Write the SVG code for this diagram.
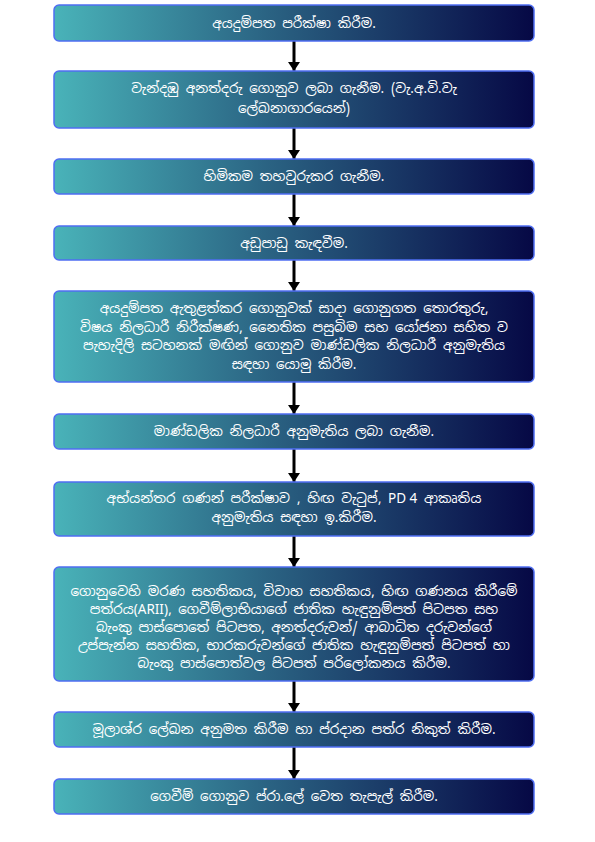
<svg xmlns="http://www.w3.org/2000/svg" width="595" height="842" viewBox="0 0 595 842">
<defs>
<linearGradient id="g" x1="0" y1="0" x2="1" y2="0">
<stop offset="0" stop-color="#49b3b9"/>
<stop offset="0.45" stop-color="#2a6282"/>
<stop offset="1" stop-color="#060845"/>
</linearGradient>
<marker id="ah" viewBox="0 0 9 12" refX="9" refY="6" markerWidth="9" markerHeight="12" markerUnits="userSpaceOnUse" orient="auto">
<path d="M0,0 L9,6 L0,12 z" fill="#000"/>
</marker>
</defs>
<style>
.b{fill:url(#g);stroke:#4f6ef2;stroke-width:1.5}
.t{fill:#fff;font-family:"Noto Sans Sinhala","Noto Sans","DejaVu Sans",sans-serif;font-size:13.5px;text-anchor:middle}
.l{font-family:"Noto Sans",sans-serif}
.c{stroke:#000;stroke-width:3;fill:none;marker-end:url(#ah)}
</style>
<rect width="595" height="842" fill="#fff"/>
<g id="connectors">
<line class="c" x1="294" y1="41" x2="294" y2="71"/>
<line class="c" x1="294" y1="128" x2="294" y2="159"/>
<line class="c" x1="294" y1="194" x2="294" y2="226"/>
<line class="c" x1="294" y1="260" x2="294" y2="291"/>
<line class="c" x1="294" y1="382" x2="294" y2="414"/>
<line class="c" x1="294" y1="449" x2="294" y2="482"/>
<line class="c" x1="294" y1="536" x2="294" y2="567"/>
<line class="c" x1="294" y1="681" x2="294" y2="712"/>
<line class="c" x1="294" y1="747" x2="294" y2="779"/>
</g>
<g id="n1"><rect class="b" x="54" y="5" width="480" height="36" rx="5"/>
<text class="t" x="294" y="28">අයදුම්පත පරීක්ෂා කිරීම.</text></g>
<g id="n2"><rect class="b" x="54" y="71" width="480" height="57" rx="5"/>
<text class="t" x="294" y="93">වැන්දඹු අනත්දරු ගොනුව ලබා ගැනීම. (වැ.අ.වි.වැ</text>
<text class="t" x="294" y="113">ලේඛනාගාරයෙන්)</text></g>
<g id="n3"><rect class="b" x="54" y="159" width="480" height="35" rx="5"/>
<text class="t" x="294" y="181">හිමිකම තහවුරුකර ගැනීම.</text></g>
<g id="n4"><rect class="b" x="54" y="226" width="480" height="34" rx="5"/>
<text class="t" x="294" y="248">අඩුපාඩු කැඳවීම.</text></g>
<g id="n5"><rect class="b" x="54" y="291" width="480" height="91" rx="5"/>
<text class="t" x="294" y="313">අයදුම්පත ඇතුළත්කර ගොනුවක් සාදා ගොනුගත තොරතුරු,</text>
<text class="t" x="294" y="332">විෂය නිලධාරී නිරීක්ෂණ, නෛතික පසුබිම සහ යෝජනා සහිත ව</text>
<text class="t" x="294" y="350">පැහැදිලි සටහනක් මඟින් ගොනුව මාණ්ඩලික නිලධාරී අනුමැතිය</text>
<text class="t" x="294" y="369">සඳහා යොමු කිරීම.</text></g>
<g id="n6"><rect class="b" x="54" y="414" width="480" height="35" rx="5"/>
<text class="t" x="294" y="436">මාණ්ඩලික නිලධාරී අනුමැතිය ලබා ගැනීම.</text></g>
<g id="n7"><rect class="b" x="54" y="482" width="480" height="54" rx="5"/>
<text class="t" x="294" y="503">අභ්යන්තර ගණන් පරීක්ෂාව , හිඟ වැටුප්, <tspan class="l">PD 4</tspan> ආකෘතිය</text>
<text class="t" x="294" y="522">අනුමැතිය සඳහා ඉ.කිරීම.</text></g>
<g id="n8"><rect class="b" x="54" y="567" width="480" height="114" rx="5"/>
<text class="t" x="294" y="596">ගොනුවෙහි මරණ සහතිකය, විවාහ සහතිකය, හිඟ ගණනය කිරීමේ</text>
<text class="t" x="294" y="614">පත්රය<tspan class="l">(ARII)</tspan>, ගෙවීම්ලාභියාගේ ජාතික හැඳුනුම්පත් පිටපත සහ</text>
<text class="t" x="294" y="632">බැංකු පාස්පොතේ පිටපත, අනත්දරුවන්/ ආබාධිත දරුවන්ගේ</text>
<text class="t" x="294" y="650">උප්පැන්න සහතික, භාරකරුවන්ගේ ජාතික හැඳුනුම්පත් පිටපත් හා</text>
<text class="t" x="294" y="668">බැංකු පාස්පොත්වල පිටපත් පරිලෝකනය කිරීම.</text></g>
<g id="n9"><rect class="b" x="54" y="712" width="480" height="35" rx="5"/>
<text class="t" x="294" y="734">මූලාශ්ර ලේඛන අනුමත කිරීම හා ප්රදාන පත්ර නිකුත් කිරීම.</text></g>
<g id="n10"><rect class="b" x="54" y="779" width="480" height="35" rx="5"/>
<text class="t" x="294" y="801">ගෙවීම් ගොනුව ප්රා.ලේ වෙත තැපැල් කිරීම.</text></g>
</svg>
